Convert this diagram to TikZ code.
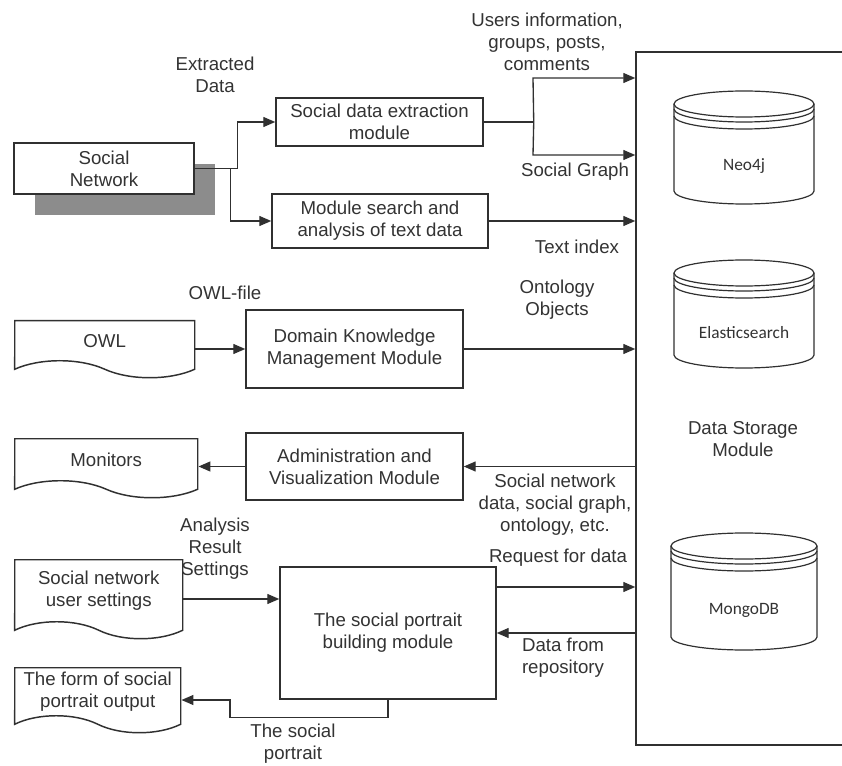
\documentclass[tikz,border=0pt]{standalone}
\usepackage{fontspec}
\setmainfont{Liberation Sans}
\newfontfamily\calfont{Carlito}
\usepackage{tikz}
\usetikzlibrary{arrows.meta,calc,positioning,shapes.symbols,shadows}
\definecolor{inkline}{HTML}{303030}
\definecolor{inktext}{HTML}{333333}
\definecolor{shadowgray}{HTML}{8C8C8C}
\newcommand{\txtsize}{\fontsize{14}{16.5}\selectfont}
% database cylinder: name, centre x, top, bottom, x radius, text
\newcommand{\dbcyl}[6]{%
  \draw[dbline, fill=white] (#2-#5,#3-13) -- (#2-#5,#4+13)
    arc[start angle=180, end angle=360, x radius=#5, y radius=13] -- (#2+#5,#3-13)
    arc[start angle=0, end angle=180, x radius=#5, y radius=13] -- cycle;
  \draw[dbline] (#2-#5,#3-13) arc[start angle=180, end angle=360, x radius=#5, y radius=13];
  \draw[dbline] (#2-#5,#3-18) arc[start angle=180, end angle=360, x radius=#5, y radius=13];
  \draw[dbline] (#2-#5,#3-25) arc[start angle=180, end angle=360, x radius=#5, y radius=13];
  \node[dbtext] (#1) at (#2,{(#3+#4)/2-19}) {#6};
}
\tikzset{
  modbox/.style={draw=inkline, line width=1.1pt, fill=white, align=center, text=inktext, font=\txtsize, inner sep=0pt},
  docbox/.style={tape, tape bend top=none, tape bend bottom=out and in, tape bend height=12.75pt,
    draw=inkline, line width=1.1pt, fill=white, align=center, text=inktext, font=\txtsize, inner sep=0pt, anchor=north west},
  lbl/.style={align=center, text=inktext, font=\txtsize, inner sep=1pt},
  flow/.style={-{Triangle[length=9pt,width=7.5pt]}, line width=1pt, draw=inkline},
  flowline/.style={line width=1pt, draw=inkline},
  dbline/.style={line width=0.9pt, draw=inkline},
  dbtext/.style={font=\calfont\fontsize{13}{15}\selectfont, text=inktext, inner sep=1pt}
}

\begin{document}
\begin{tikzpicture}[x=0.75pt,y=0.75pt]
  \useasboundingbox (0,0) rectangle (842,765);

  % data storage
  \node[modbox, minimum width=160.5pt, minimum height=519.75pt] (store) at (743,366.5) {};
  \node[lbl] (dsm) at (743,325.5) {Data Storage\\Module};
  \dbcyl{neo}{744}{674}{561}{70}{Neo4j}
  \dbcyl{elastic}{744}{505}{397}{70}{Elasticsearch}
  \dbcyl{mongo}{744}{232}{115}{73}{MongoDB}

  % social network and extraction
  \node[modbox, minimum width=135pt, minimum height=38.25pt,
    general shadow={fill=shadowgray, shadow xshift=15.75pt, shadow yshift=-15.75pt}] (soc) at (104,596.5) {Social\\Network};
  \node[modbox, minimum width=155.25pt, minimum height=36pt] (ext) at (379.5,643) {Social data extraction\\module};
  \node[modbox, minimum width=162pt, minimum height=40.5pt] (search) at (380,544) {Module search and\\analysis of text data};

  % knowledge and administration
  \node[docbox, minimum width=135pt, minimum height=42.75pt] (owl) at (14,445) {OWL};
  \node[modbox, minimum width=162.75pt, minimum height=58.5pt] (dkm) at (354.5,416) {Domain Knowledge\\Management Module};
  \node[docbox, minimum width=137.25pt, minimum height=44.25pt] (mon) at (14,327) {Monitors};
  \node[modbox, minimum width=162.75pt, minimum height=50.25pt] (admin) at (354.5,298.5) {Administration and\\Visualization Module};

  % social portrait
  \node[docbox, minimum width=126pt, minimum height=59.25pt] (sett) at (14,206) {Social network\\user settings};
  \node[modbox, minimum width=162pt, minimum height=99pt] (portrait) at (388,132) {The social portrait\\building module};
  \node[docbox, minimum width=124.5pt, minimum height=48.75pt] (form) at (14,98) {The form of social\\portrait output};

  % labels
  \node[lbl] (xdata) at (215,690.5) {Extracted\\Data};
  \node[lbl] (users) at (547,723) {Users information,\\groups, posts,\\comments};
  \node[lbl] (sgraph) at (575,593) {Social Graph};
  \node[lbl] (tindex) at (577,518) {Text index};
  \node[lbl] (owlfile) at (225,472) {OWL-file};
  \node[lbl] (onto) at (557,465) {Ontology\\Objects};
  \node[lbl] (sndata) at (555,260) {Social network\\data, social graph,\\ontology, etc.};
  \node[lbl] (anres) at (215,216) {Analysis\\Result\\Settings};
  \node[lbl] (req) at (558,207) {Request for data};
  \node[lbl] (repo) at (563,107) {Data from\\repository};
  \node[lbl] (sport) at (293,21) {The social\\portrait};

  % connectors
  \coordinate (snup) at ($(soc.east)+(43,0)$);
  \coordinate (sndn) at ($(soc.east)+(36,0)$);
  \draw[flow] (soc.east) -- (snup) |- (ext.west);
  \draw[flow] (sndn) |- (search.west);

  \coordinate (extfork) at ($(ext.east)+(50,0)$);
  \coordinate (usrin) at (533,687);
  \coordinate (graphin) at (533,610);
  \draw[flowline] (ext.east) -- (extfork);
  \draw[flow] (extfork) -- (usrin) -- (usrin -| store.west);
  \draw[flow] (extfork) -- (graphin) -- (graphin -| store.west);
  \draw[flow] (search.east) -- (search.east -| store.west);

  \draw[flow] (owl.east |- dkm.west) -- (dkm.west);
  \draw[flow] (dkm.east) -- (dkm.east -| store.west);
  \draw[flow] (store.west |- admin.east) -- (admin.east);
  \draw[flow] (admin.west) -- (admin.west -| mon.east);

  \coordinate (setin) at ($(portrait.west)+(0,34)$);
  \coordinate (reqout) at ($(portrait.east)+(0,46)$);
  \draw[flow] (setin -| sett.east) -- (setin);
  \draw[flow] (reqout) -- (reqout -| store.west);
  \draw[flow] (store.west |- portrait.east) -- (portrait.east);

  \coordinate (outlow) at ($(portrait.south)+(0,-18)$);
  \coordinate (outbend) at (230,65);
  \draw[flow] (portrait.south) -- (outlow) -| (outbend) -- (outbend -| form.east);

\end{tikzpicture}
\end{document}
